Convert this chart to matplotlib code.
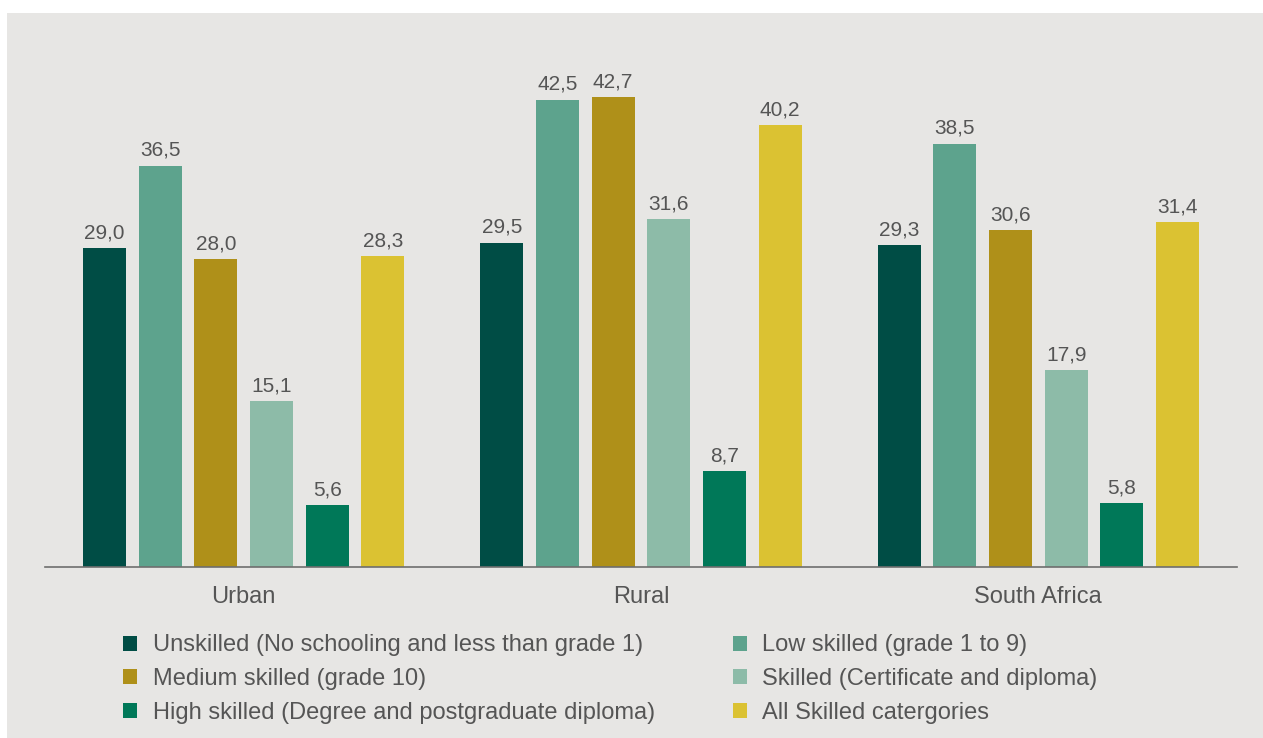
import numpy as np
import matplotlib.pyplot as plt
from matplotlib.patches import Rectangle, Patch

plt.rcParams['font.family'] = ['Liberation Sans', 'DejaVu Sans']

# groups and skill categories
regions = ['Urban', 'Rural', 'South Africa']
skill_names = ['Unskilled (No schooling and less than grade 1)',
               'Low skilled (grade 1 to 9)',
               'Medium skilled (grade 10)',
               'Skilled (Certificate and diploma)',
               'High skilled (Degree and postgraduate diploma)',
               'All Skilled catergories']
unskilled = [29.0, 29.5, 29.3]
low_skilled = [36.5, 42.5, 38.5]
medium_skilled = [28.0, 42.7, 30.6]
skilled = [15.1, 31.6, 17.9]
high_skilled = [5.6, 8.7, 5.8]
all_skilled = [28.3, 40.2, 31.4]
series = [unskilled, low_skilled, medium_skilled, skilled, high_skilled, all_skilled]
colours = ['#004D45', '#5DA38D', '#AF9019', '#8DBBA8', '#007858', '#DBC232']

bg = '#E7E6E4'
txt = '#555555'

fig = plt.figure(figsize=(12.63, 7.38), dpi=100)
fig.patch.set_facecolor('white')
fig.patches.append(Rectangle((7 / 1263, 0), 1, 1 - 13 / 738, transform=fig.transFigure,
                             facecolor=bg, edgecolor='none', zorder=-10))

ax = fig.add_axes([45 / 1263, 1 - 567 / 738, (1237 - 45) / 1263, 495 / 738])
ax.set_facecolor('none')

x = np.arange(len(regions))
step = 0.14
width = 0.108
for i, (vals, c) in enumerate(zip(series, colours)):
    bars = ax.bar(x + (i - 2.5) * step, vals, width, color=c, label=skill_names[i])
    ax.bar_label(bars, labels=[f"{v:.1f}".replace('.', ',') for v in vals],
                 padding=4, fontsize=15, color=txt)

ax.set_xlim(-0.5, 2.5)
ax.set_ylim(0, 45)
ax.set_yticks([])
ax.set_xticks(x)
ax.set_xticklabels(regions, fontsize=17, color=txt)
ax.tick_params(axis='x', length=0, pad=14)
for s in ['top', 'right', 'left']:
    ax.spines[s].set_visible(False)
ax.spines['bottom'].set_color('#6E6E6E')
ax.spines['bottom'].set_linewidth(1.2)

# legend filled column by column
order = [0, 2, 4, 1, 3, 5]
handles = [Patch(facecolor=colours[k], edgecolor='none') for k in order]
labels = [skill_names[k] for k in order]
leg = fig.legend(handles, labels, ncol=2, loc='upper left',
                 bbox_to_anchor=(123 / 1263, 1 - 634.5 / 738), frameon=False,
                 fontsize=17, handlelength=0.6, handleheight=0.6,
                 handletextpad=0.65, columnspacing=3.3, labelspacing=0.5,
                 borderpad=0, borderaxespad=0)
for t in leg.get_texts():
    t.set_color(txt)

fig.savefig('out.png', dpi=100, facecolor=fig.get_facecolor())
